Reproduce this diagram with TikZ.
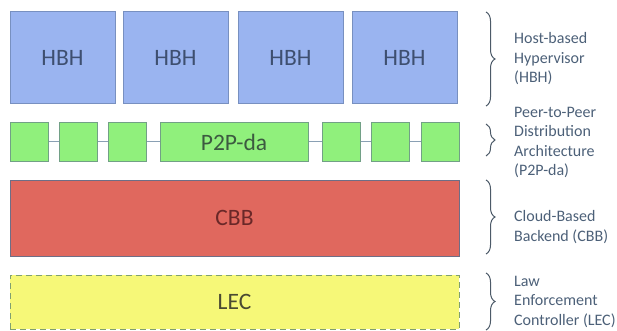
\documentclass[tikz,border=0pt]{standalone}
\usepackage{fontspec}
\setmainfont{Carlito}
\usetikzlibrary{decorations.pathreplacing}
\definecolor{hbhfill}{HTML}{9AB4F0}
\definecolor{hbhline}{HTML}{7890C0}
\definecolor{hbhtext}{HTML}{3E4F70}
\definecolor{pfill}{HTML}{90F07C}
\definecolor{pline}{HTML}{72A086}
\definecolor{ptext}{HTML}{3C5A40}
\definecolor{plink}{HTML}{8AA0B4}
\definecolor{cfill}{HTML}{E0685E}
\definecolor{cline}{HTML}{6E6E86}
\definecolor{ctext}{HTML}{6A2828}
\definecolor{lfill}{HTML}{F6F878}
\definecolor{lline}{HTML}{80A070}
\definecolor{ltext}{HTML}{4A4A32}
\definecolor{side}{HTML}{4C6078}
\definecolor{bracec}{HTML}{4C5A68}
\tikzset{
  boxlabel/.style={font=\fontsize{23.5}{26}\selectfont, inner sep=0pt},
  hbhbox/.style={boxlabel, draw=hbhline, fill=hbhfill, line width=1pt, text=hbhtext, minimum width=105pt, minimum height=92pt},
  pbox/.style={boxlabel, draw=pline, fill=pfill, line width=1pt, text=ptext, minimum width=38pt, minimum height=38pt},
  cbbbox/.style={boxlabel, draw=cline, fill=cfill, line width=1pt, text=ctext, minimum width=449pt, minimum height=76pt},
  lecbox/.style={boxlabel, draw=lline, fill=lfill, line width=1pt, dash pattern=on 6pt off 4pt, text=ltext, minimum width=449pt, minimum height=54pt},
  plinkline/.style={draw=plink, line width=1pt},
  bracedraw/.style={draw=bracec, line width=1pt, decorate, decoration={brace, amplitude=9pt}},
  sidelabel/.style={font=\fontsize{16}{19.5}\selectfont, text=side, align=left, anchor=west, inner sep=0pt}
}
\begin{document}
\begin{tikzpicture}[x=1pt,y=-1pt]
\useasboundingbox (0,0) rectangle (617,331);
% HBH row
\node[hbhbox] (h1) at (62.5,58) {HBH};
\node[hbhbox] (h2) at (175.5,58) {HBH};
\node[hbhbox] (h3) at (290.5,58) {HBH};
\node[hbhbox] (h4) at (404.5,58) {HBH};
% P2P row
\node[pbox] (g1) at (29,142) {};
\node[pbox] (g2) at (78,142) {};
\node[pbox] (g3) at (127.5,142) {};
\node[pbox, minimum width=148pt] (g4) at (234,142) {P2P-da};
\node[pbox] (g5) at (341,142) {};
\node[pbox] (g6) at (390,142) {};
\node[pbox] (g7) at (440,142) {};
\draw[plinkline] (g1.east) -- (g2.west);
\draw[plinkline] (g2.east) -- (g3.west);
\draw[plinkline] (g3.east) -- (g4.west);
\draw[plinkline] (g4.east) -- (g5.west);
\draw[plinkline] (g5.east) -- (g6.west);
\draw[plinkline] (g6.east) -- (g7.west);
% CBB
\node[cbbbox] (cbb) at (234.5,218) {CBB};
% LEC
\node[lecbox] (lec) at (234.5,302) {LEC};
% braces
\coordinate (b1t) at (486,12);
\coordinate (b1b) at (486,106);
\coordinate (b2t) at (486,124);
\coordinate (b2b) at (486,156);
\coordinate (b3t) at (486,180);
\coordinate (b3b) at (486,254);
\coordinate (b4t) at (486,273);
\coordinate (b4b) at (486,330);
\draw[bracedraw] (b1t) -- (b1b);
\draw[bracedraw] (b2t) -- (b2b);
\draw[bracedraw] (b3t) -- (b3b);
\draw[bracedraw] (b4t) -- (b4b);
% side labels
\node[sidelabel] (t1) at (514,59) {Host-based\\Hypervisor\\(HBH)};
\node[sidelabel] (t2) at (514,142.5) {Peer-to-Peer\\Distribution\\Architecture\\(P2P-da)};
\node[sidelabel] (t3) at (514,227) {Cloud-Based\\Backend (CBB)};
\node[sidelabel] (t4) at (514,301.5) {Law\\Enforcement\\Controller (LEC)};
\end{tikzpicture}
\end{document}
